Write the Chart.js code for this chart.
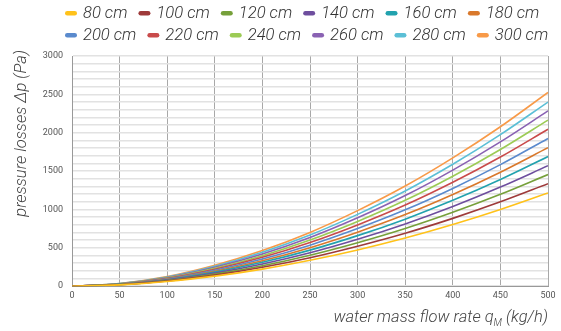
<!DOCTYPE html>
<html>
<head>
<meta charset="utf-8">
<script src="https://cdn.jsdelivr.net/npm/chart.js@4"></script>
<style>
	html, body { margin: 0; padding: 0; background: #fff; }
	#wrap { width: 561px; height: 331px; }
</style>
</head>
<body>
<div id="wrap"><canvas id="chart"></canvas></div>
<script>
// Flow rate (kg/h)
const flowRates = [0, 50, 100, 150, 200, 250, 300, 350, 400, 450, 500];

// Pressure losses (Pa), one array per length
const loss80 = [0, 17, 61, 131, 223, 338, 473, 628, 804, 1000, 1215];
const loss100 = [0, 19, 67, 144, 246, 371, 521, 690, 884, 1099, 1335];
const loss120 = [0, 20, 73, 157, 267, 404, 567, 752, 963, 1197, 1455];
const loss140 = [0, 22, 79, 170, 289, 436, 612, 812, 1039, 1292, 1570];
const loss160 = [0, 24, 85, 183, 311, 470, 659, 874, 1119, 1391, 1690];
const loss180 = [0, 25, 90, 195, 332, 502, 704, 933, 1195, 1486, 1805];
const loss200 = [0, 27, 96, 208, 354, 535, 751, 995, 1274, 1584, 1925];
const loss220 = [0, 29, 102, 221, 376, 569, 798, 1057, 1354, 1683, 2045];
const loss240 = [0, 30, 108, 234, 398, 602, 844, 1119, 1433, 1782, 2165];
const loss260 = [0, 32, 114, 247, 420, 635, 891, 1181, 1513, 1881, 2285];
const loss280 = [0, 34, 120, 259, 442, 667, 936, 1241, 1589, 1975, 2400];
const loss300 = [0, 35, 126, 273, 465, 701, 985, 1305, 1672, 2078, 2525];

const seriesLabels = ['80 cm', '100 cm', '120 cm', '140 cm', '160 cm', '180 cm',
	'200 cm', '220 cm', '240 cm', '260 cm', '280 cm', '300 cm'];
const seriesValues = [loss80, loss100, loss120, loss140, loss160, loss180,
	loss200, loss220, loss240, loss260, loss280, loss300];
const seriesColors = ['#FFC21A', '#9E3A3A', '#76A03A', '#6E4E9E', '#22A2AE', '#D9782B',
	'#5A8ACD', '#C94B4B', '#9CCB55', '#8A62B3', '#5BBFD6', '#F89A48'];

const yTicks = [0, 500, 1000, 1500, 2000, 2500, 3000];

const fontFamily = "Roboto, 'Liberation Sans', Arial, sans-serif";
const titleFont = "300 italic 16.5px " + fontFamily;
const legendFont = "300 italic 16.6px " + fontFamily;

// Legend (two rows of six, left aligned) and axis titles drawn by hand
const decorPlugin = {
	id: 'decor',
	afterDraw(chart) {
		const ctx = chart.ctx;
		const area = chart.chartArea;
		ctx.save();

		// legend
		ctx.font = legendFont;
		ctx.textBaseline = 'middle';
		let lx = 65;
		chart.data.datasets.forEach((ds, i) => {
			const row = Math.floor(i / 6);
			if (i % 6 === 0) lx = 65;
			const y = 13 + row * 22;
			ctx.fillStyle = ds.borderColor;
			ctx.beginPath();
			ctx.roundRect(lx, y - 2, 12, 4.5, 2.25);
			ctx.fill();
			ctx.fillStyle = '#333';
			ctx.fillText(ds.label, lx + 18, y + 1);
			lx += 18 + ctx.measureText(ds.label).width + 11;
		});

		ctx.fillStyle = '#444';

		// x title, right aligned under the plot
		const parts = [
			{ text: 'water mass flow rate q', font: titleFont, dy: 0 },
			{ text: 'M', font: "300 italic 10px " + fontFamily, dy: 4 },
			{ text: ' (kg/h)', font: titleFont, dy: 0 },
		];
		let total = 0;
		for (let p of parts) {
			ctx.font = p.font;
			p.w = ctx.measureText(p.text).width;
			total += p.w;
		}
		let x = area.right - total;
		ctx.textBaseline = 'alphabetic';
		for (let p of parts) {
			ctx.font = p.font;
			ctx.fillText(p.text, x, 322 + p.dy);
			x += p.w;
		}

		// y title, rotated
		ctx.translate(26, 50);
		ctx.rotate(-Math.PI / 2);
		ctx.font = titleFont;
		ctx.textAlign = 'right';
		ctx.fillText('pressure losses Δp (Pa)', 0, 0);
		ctx.restore();
	}
};

const datasets = seriesLabels.map((label, i) => ({
	label: label,
	data: seriesValues[i].map((v, j) => ({ x: flowRates[j], y: v })),
	borderColor: seriesColors[i],
	backgroundColor: seriesColors[i],
	borderWidth: 1.6,
	pointRadius: 0,
	cubicInterpolationMode: 'monotone',
}));

window.onload = () => {
	let context = document.querySelector('#chart');

	new Chart(context, {
		type: 'line',
		data: { datasets: datasets },
		plugins: [decorPlugin],
		options: {
			maintainAspectRatio: false,
			responsive: true,
			animation: false,
			layout: { padding: { left: 0, right: 13, top: 56, bottom: 26 } },
			plugins: {
				legend: { display: false },
				tooltip: { enabled: false },
			},
			scales: {
				x: {
					type: 'linear',
					min: 0,
					max: 500,
					ticks: {
						stepSize: 50,
						color: '#555',
						font: { family: fontFamily, size: 9 },
						padding: 4,
					},
					grid: { color: '#a8a8a8', lineWidth: 1, drawTicks: false },
					border: { color: '#999' },
				},
				y: {
					min: 0,
					max: 3000,
					// room on the left for the rotated title
					afterFit: (scale) => { scale.width = 72; },
					ticks: {
						stepSize: 100,
						autoSkip: false,
						maxTicksLimit: 40,
						color: '#555',
						font: { family: fontFamily, size: 9 },
						padding: 9,
						callback: (v) => yTicks.includes(v) ? v : '',
					},
					grid: { color: '#e2e2e2', lineWidth: 1.5, drawTicks: false },
					border: { color: '#999' },
				},
			},
		},
	});
};
</script>
</body>
</html>
